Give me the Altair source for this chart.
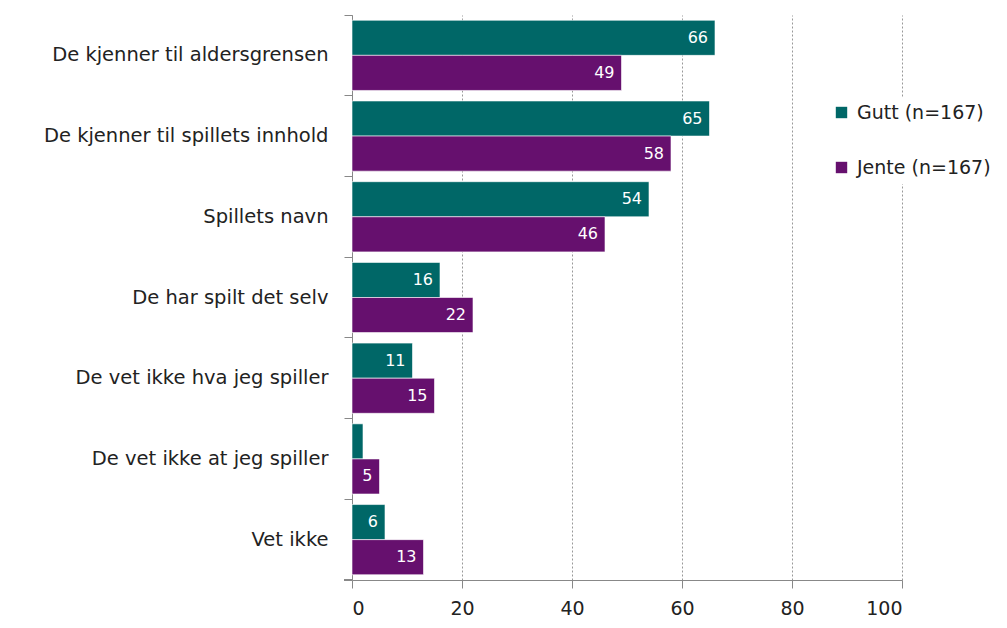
import altair as alt
import pandas as pd

categories = [
    "De kjenner til aldersgrensen",
    "De kjenner til spillets innhold",
    "Spillets navn",
    "De har spilt det selv",
    "De vet ikke hva jeg spiller",
    "De vet ikke at jeg spiller",
    "Vet ikke",
]
series = ["Gutt (n=167)", "Jente (n=167)"]
gutt = [66, 65, 54, 16, 11, 2, 6]
jente = [49, 58, 46, 22, 15, 5, 13]
colors = ["#006767", "#66106e"]

rows = []
for c, g, j in zip(categories, gutt, jente):
    rows.append({"cat": c, "series": series[0], "value": g})
    rows.append({"cat": c, "series": series[1], "value": j})
df = pd.DataFrame(rows)

font = "DejaVu Sans"

y = alt.Y(
    "cat:N",
    sort=categories,
    scale=alt.Scale(paddingInner=0, paddingOuter=0),
    axis=alt.Axis(
        title=None, bandPosition=0, tickSize=8, labelPadding=16,
        domainColor="#888888", tickColor="#888888", labelFontSize=19.5,
        labelColor="#222222", labelLimit=400, labelFont=font, grid=False,
    ),
)
yoff = alt.YOffset("series:N", sort=series,
                   scale=alt.Scale(paddingOuter=0.15, paddingInner=0))
x = alt.X(
    "value:Q",
    scale=alt.Scale(domain=[0, 100], nice=False),
    axis=alt.Axis(
        title=None, values=[0, 20, 40, 60, 80, 100], tickSize=8,
        labelPadding=11, domainColor="#888888", tickColor="#888888",
        labelFontSize=19, labelColor="#222222", labelFont=font,
        grid=True, gridColor="#999999", gridDash=[2, 2], gridWidth=1,
    ),
)

bars = alt.Chart(df).mark_bar(stroke="white", strokeWidth=0.6).encode(
    y=y, yOffset=yoff, x=x,
    color=alt.Color(
        "series:N", sort=series,
        scale=alt.Scale(domain=series, range=colors),
        legend=alt.Legend(
            title=None, orient="none", legendX=474, legendY=82,
            symbolType="square", symbolSize=130, symbolStrokeWidth=0,
            labelFontSize=19, labelFont=font, labelColor="#222222",
            rowPadding=35, fillColor="white", padding=6, labelLimit=300,
            labelOffset=6,
        ),
    ),
)

labels = alt.Chart(df).transform_filter("datum.value >= 4").mark_text(
    align="right", baseline="middle", dx=-7, color="white", fontSize=16, font=font
).encode(y=y, yOffset=yoff, x="value:Q", text="value:Q")

bottom_tick = alt.Chart(df).mark_rule(color="#888888").encode(
    x=alt.value(-8), x2=alt.value(0), y=alt.value(565)
)

chart = (
    alt.layer(bars, labels, bottom_tick)
    .properties(
        width=550, height=565,
        autosize=alt.AutoSizeParams(type="none"),
        padding={"left": 344, "top": 7, "right": 96, "bottom": 40},
    )
    .configure_view(stroke=None)
)

chart.save("out.html", embed_options={"renderer": "svg", "actions": False})
